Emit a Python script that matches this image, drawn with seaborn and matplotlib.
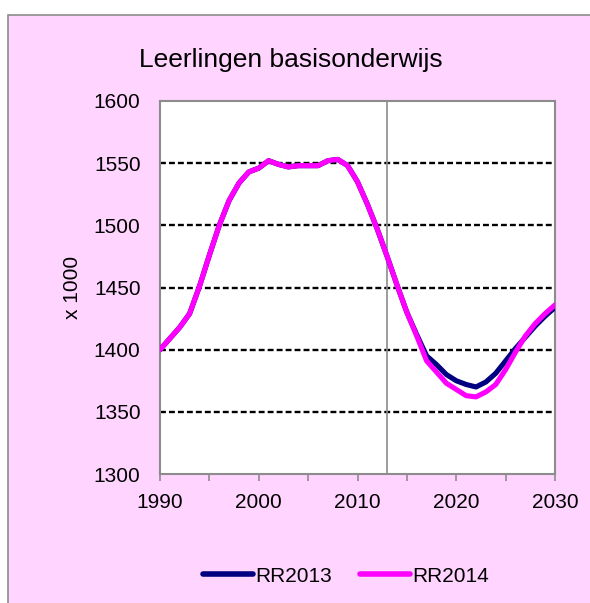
import numpy as np
import pandas as pd
import matplotlib
matplotlib.use("Agg")
import matplotlib.pyplot as plt
import seaborn as sns
from matplotlib.patches import Rectangle
from matplotlib.lines import Line2D

years = np.arange(1990, 2031)
rr2014 = [1400, 1409, 1418, 1429, 1451, 1476, 1500, 1520, 1534, 1543,
          1546, 1552, 1549, 1547, 1548, 1548, 1548, 1552, 1553, 1548,
          1535, 1517, 1497, 1475, 1452, 1430, 1411, 1391, 1382, 1373,
          1368, 1363, 1362, 1366, 1372, 1384, 1398, 1411, 1421, 1429,
          1436]
rr2013 = [1400, 1409, 1418, 1429, 1451, 1476, 1500, 1520, 1534, 1543,
          1546, 1552, 1549, 1547, 1548, 1548, 1548, 1552, 1553, 1548,
          1535, 1517, 1497, 1475, 1452, 1430, 1412, 1395, 1388, 1380,
          1375, 1372, 1370, 1374, 1381, 1391, 1401, 1410, 1419, 1427,
          1434]
series_names = ["RR2013", "RR2014"]
series_colors = ["#000080", "#FF00FF"]
title = "Leerlingen basisonderwijs"
ylabel = "x 1000"
x_ticks = [1990, 2000, 2010, 2020, 2030]
y_ticks = [1300, 1350, 1400, 1450, 1500, 1550, 1600]
marker_year = 2013

df = pd.concat([
    pd.DataFrame({"year": years, "value": rr2013, "series": series_names[0]}),
    pd.DataFrame({"year": years, "value": rr2014, "series": series_names[1]}),
])

sns.set_theme(style="white")
plt.rcParams["font.family"] = ["Liberation Sans", "DejaVu Sans"]
plt.rcParams["text.color"] = "black"
plt.rcParams["axes.labelcolor"] = "black"
plt.rcParams["xtick.color"] = "black"
plt.rcParams["ytick.color"] = "black"

pink = "#FFD4FF"
fig = plt.figure(figsize=(5.9, 6.03), dpi=100)
fig.patch.set_facecolor("white")
fig.patches.append(Rectangle((8 / 590, -0.01), 1.0, 1 - 15 / 603 + 0.01,
                             transform=fig.transFigure, facecolor=pink,
                             edgecolor="#8C8C8C", linewidth=1.2, zorder=-5))

ax = fig.add_axes([160 / 590, 1 - 474 / 603, (555 - 160) / 590, (474 - 101) / 603])
ax.set_facecolor("white")

for yv in y_ticks[1:-1]:
    ax.axhline(yv, color="black", linestyle=(0, (2.5, 1.3)), linewidth=1.7, zorder=1)
ax.axvline(marker_year, color="#8C8C8C", linewidth=1.2, zorder=1)

sns.lineplot(data=df, x="year", y="value", hue="series",
             palette=dict(zip(series_names, series_colors)),
             linewidth=3.7, ax=ax, legend=False, zorder=3)

ax.set_xlim(1990, 2030)
ax.set_ylim(1300, 1600)
ax.set_xticks(x_ticks)
ax.set_xticks(np.arange(1995, 2030, 10), minor=True)
ax.set_yticks(y_ticks)
ax.tick_params(axis="x", which="both", direction="out", length=5, width=1.2,
               color="#8C8C8C", labelcolor="black", labelsize=15, pad=9, bottom=True)
ax.tick_params(axis="y", length=0, labelsize=15, pad=14, labelcolor="black")
ax.set_xlabel("")
ax.set_ylabel(ylabel, fontsize=15, color="black")
ax.yaxis.set_label_coords((82 - 160) / 395, 0.5)

for s in ["left", "bottom", "right", "top"]:
    ax.spines[s].set_color("#8C8C8C")
    ax.spines[s].set_linewidth(1.5)
ax.spines["top"].set_linestyle((0, (3, 1)))

fig.text(291 / 590, 1 - 67 / 603, title, ha="center", va="baseline",
         fontsize=19, color="black")

handles = [Line2D([], [], color=c, linewidth=4) for c in series_colors]
leg = fig.legend(handles, series_names, loc="center",
                 bbox_to_anchor=(346 / 590, 1 - 576 / 603),
                 ncol=2, frameon=False, fontsize=15, handlelength=2.4,
                 handletextpad=0.15, columnspacing=1.3)
for t in leg.get_texts():
    t.set_color("black")

fig.savefig("out.png", dpi=100, facecolor=fig.get_facecolor())
